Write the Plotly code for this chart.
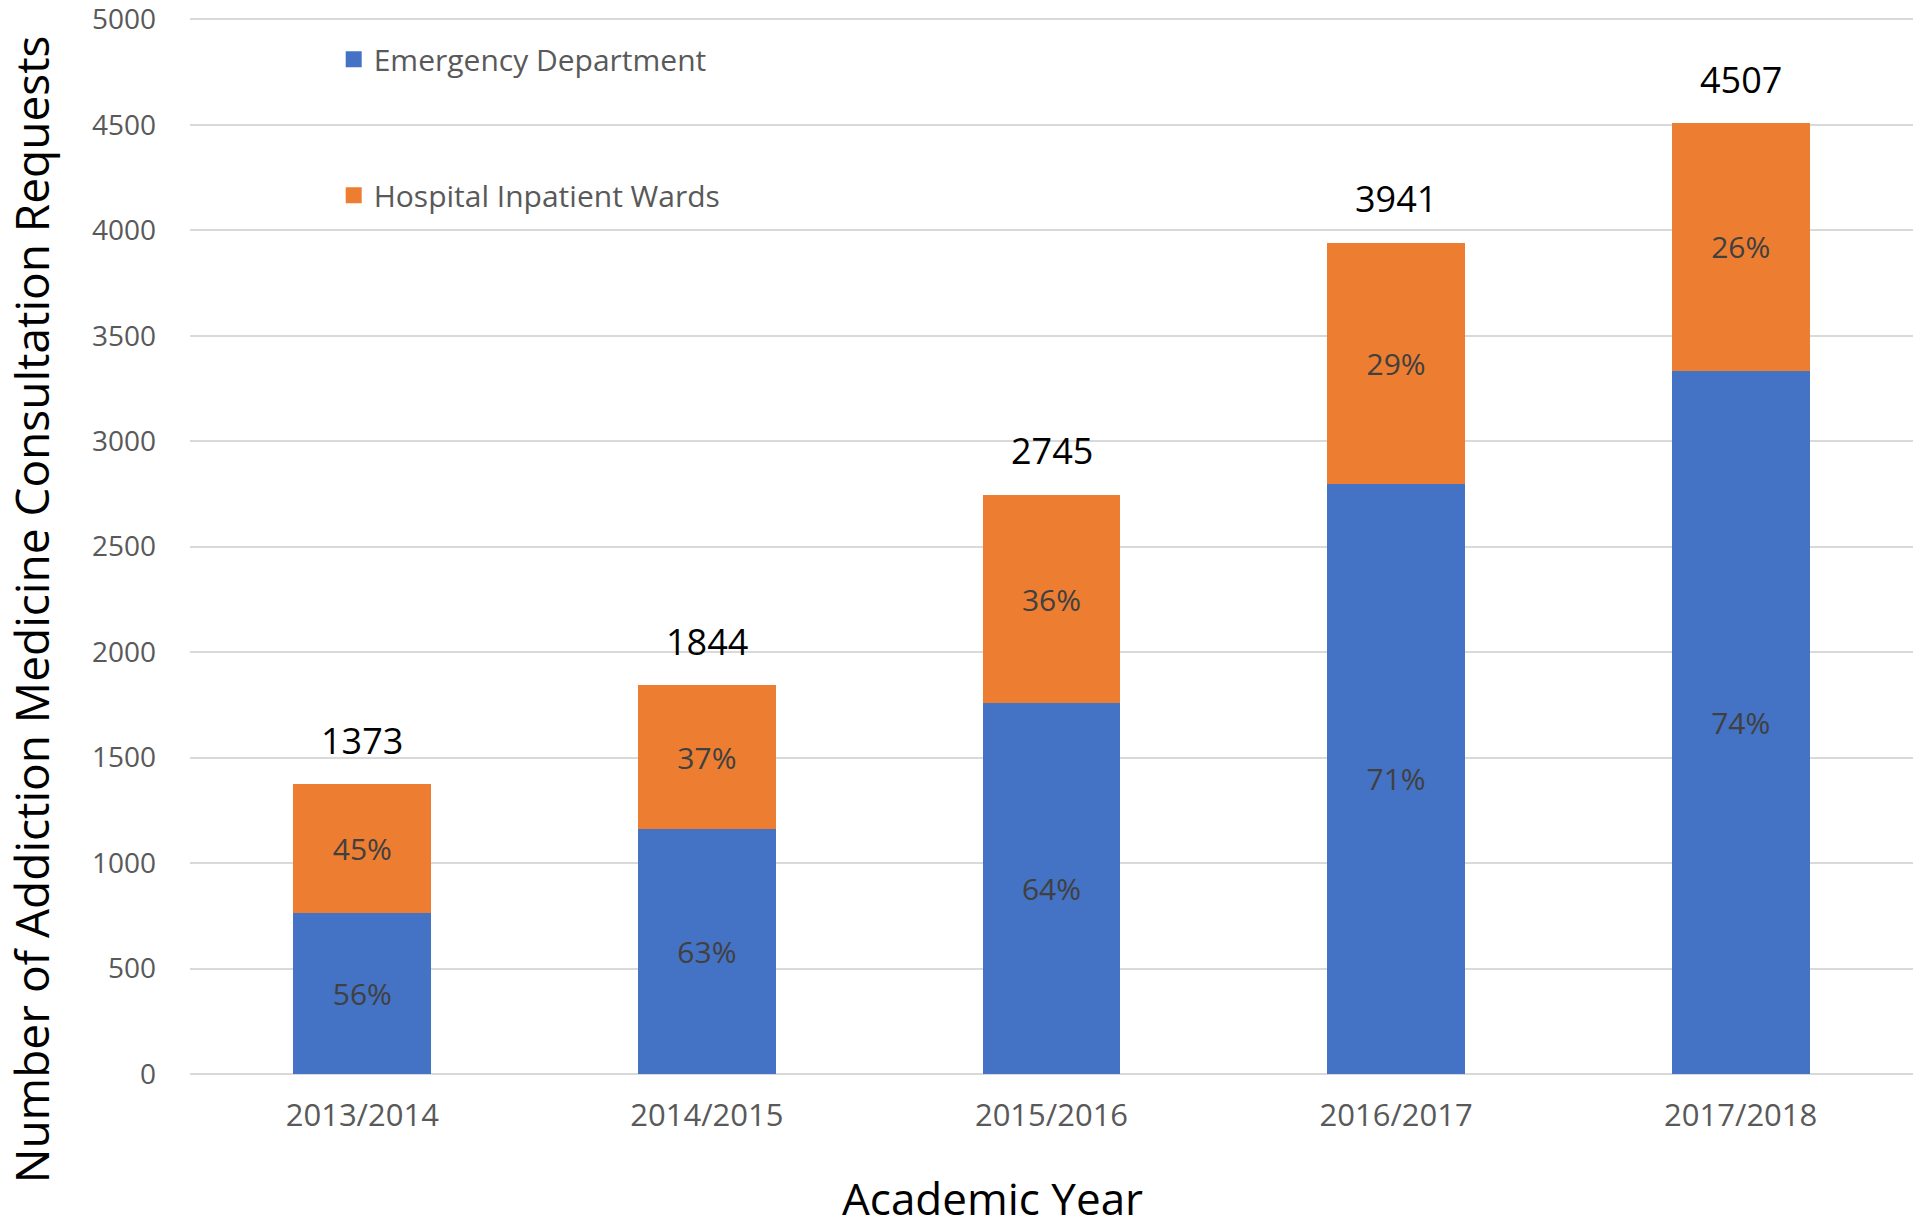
import plotly.graph_objects as go

years = ["2013/2014", "2014/2015", "2015/2016", "2016/2017", "2017/2018"]
emergency = [762, 1160, 1757, 2798, 3335]
inpatient = [611, 684, 988, 1143, 1172]
totals = [1373, 1844, 2745, 3941, 4507]
emergency_pct = ["56%", "63%", "64%", "71%", "74%"]
inpatient_pct = ["45%", "37%", "36%", "29%", "26%"]
y_ticks = [0, 500, 1000, 1500, 2000, 2500, 3000, 3500, 4000, 4500, 5000]

BLUE = "#4472C4"
ORANGE = "#ED7D31"
FONT = "Open Sans"

fig = go.Figure()
fig.add_trace(go.Bar(
    x=years, y=emergency, name="Emergency Department",
    marker=dict(color=BLUE, line=dict(width=0)),
    text=emergency_pct, textposition="inside", insidetextanchor="middle",
    textangle=0, constraintext="none",
    textfont=dict(family=FONT, size=30, color="#404040"),
    showlegend=False, hoverinfo="x+y+name",
))
fig.add_trace(go.Bar(
    x=years, y=inpatient, name="Hospital Inpatient Wards",
    marker=dict(color=ORANGE, line=dict(width=0)),
    text=inpatient_pct, textposition="inside", insidetextanchor="middle",
    textangle=0, constraintext="none",
    textfont=dict(family=FONT, size=30, color="#404040"),
    showlegend=False, hoverinfo="x+y+name",
))
# legend entries with larger square swatches
fig.add_trace(go.Scatter(
    x=[None], y=[None], mode="markers", name="Emergency Department",
    marker=dict(symbol="square", size=16, color=BLUE),
    legendgroup="ed", showlegend=True,
))
fig.add_trace(go.Scatter(
    x=[None], y=[None], mode="markers", name="Hospital Inpatient Wards",
    marker=dict(symbol="square", size=16, color=ORANGE),
    legendgroup="hw", showlegend=True,
))

for yr, tot in zip(years, totals):
    fig.add_annotation(
        x=yr, y=tot, text=str(tot), showarrow=False,
        yanchor="middle", yshift=44,
        font=dict(family=FONT, size=36, color="#000000"),
    )

# axis titles (placed where the reference has them)
fig.add_annotation(
    text="Academic Year", xref="paper", yref="paper", x=0.4655, y=0,
    xanchor="center", yanchor="middle", yshift=-124, showarrow=False,
    font=dict(family=FONT, size=44, color="#000000"),
)
fig.add_annotation(
    text="Number of Addiction Medicine Consultation Requests",
    xref="paper", yref="paper", x=-0.0923, y=0.438,
    xanchor="center", yanchor="middle", textangle=-90, showarrow=False,
    font=dict(family=FONT, size=46, color="#000000"),
)

fig.update_layout(
    width=1920, height=1230,
    margin=dict(l=190, r=7, t=13, b=156, autoexpand=False),
    paper_bgcolor="white", plot_bgcolor="white",
    barmode="stack", bargap=0.6,
    font=dict(family=FONT, color="#595959"),
    legend=dict(
        x=0.0834, y=0.981, xanchor="left", yanchor="top",
        traceorder="grouped", tracegroupgap=94,
        font=dict(family=FONT, size=30, color="#595959"),
        bgcolor="rgba(0,0,0,0)", itemsizing="trace",
    ),
    xaxis=dict(
        automargin=False,
        tickfont=dict(family=FONT, size=31, color="#595959"),
        showgrid=False, showline=False, ticks="",
        ticklabelstandoff=20,
    ),
    yaxis=dict(
        automargin=False,
        range=[0, 5030], tickvals=y_ticks,
        tickfont=dict(family=FONT, size=28, color="#595959"),
        ticklabeloverflow="allow",
        showgrid=True, gridcolor="#D9D9D9", gridwidth=2,
        zeroline=True, zerolinecolor="#D9D9D9", zerolinewidth=2,
        showline=False, ticks="",
        ticklabelstandoff=33,
    ),
)

fig.write_html("out.html", config={"displayModeBar": False},
               post_script="document.body.style.margin='0';")
